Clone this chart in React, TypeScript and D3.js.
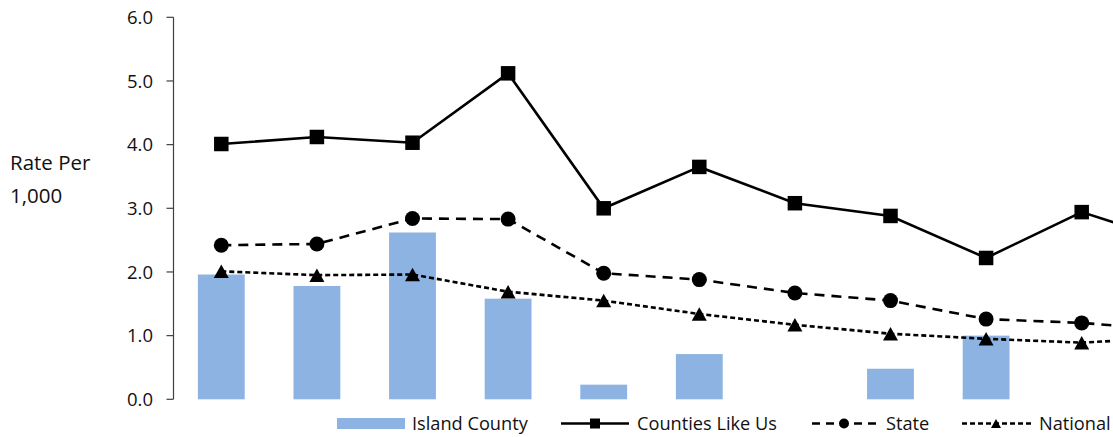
import React from "react";
import * as d3 from "d3";

const categories = ["C1", "C2", "C3", "C4", "C5", "C6", "C7", "C8", "C9", "C10", "C11"];
const islandCounty = [1.96, 1.78, 2.62, 1.58, 0.23, 0.71, 0, 0.48, 1.0, 0, 0];
const countiesLikeUs = [4.01, 4.12, 4.03, 5.12, 3.0, 3.65, 3.08, 2.88, 2.22, 2.94, 2.46];
const stateRate = [2.42, 2.44, 2.84, 2.83, 1.98, 1.88, 1.67, 1.55, 1.26, 1.2, 1.08];
const nationalRate = [2.01, 1.95, 1.96, 1.69, 1.55, 1.34, 1.17, 1.03, 0.95, 0.89, 0.97];
const yTicks = [0, 1, 2, 3, 4, 5, 6];
const legendLabels = ["Island County", "Counties Like Us", "State", "National"];

const W = 1113;
const H = 437;
const FONT = "'Open Sans', sans-serif";
const TEXT = "#111";
const BAR = "#8DB3E2";

const axisX = 173.5;
const step = 95.6;
const x = d3.scaleBand<string>().domain(categories).range([axisX, axisX + step * categories.length]).padding(0);
const y = d3.scaleLinear().domain([0, 6]).range([399.3, 17.3]);
const cx = (c: string) => (x(c) as number) + x.bandwidth() / 2;
const barW = x.bandwidth() * 0.49;

const lineGen = d3
  .line<number>()
  .x((_, i) => cx(categories[i]))
  .y((d) => y(d));

function Square({ x: px, y: py, s }: { x: number; y: number; s: number }) {
  return <rect x={px - s / 2} y={py - s / 2} width={s} height={s} fill="#000" />;
}
function Circle({ x: px, y: py, r }: { x: number; y: number; r: number }) {
  return <circle cx={px} cy={py} r={r} fill="#000" />;
}
function Tri({ x: px, y: py, s }: { x: number; y: number; s: number }) {
  const h = s * 0.9;
  return (
    <path
      d={`M${px},${py - h / 2}L${px + s / 2},${py + h / 2}L${px - s / 2},${py + h / 2}Z`}
      fill="#000"
    />
  );
}

export default function App() {
  const legendY = 423.5;
  return (
    <svg
      width={W}
      height={H}
      style={{ position: "absolute", left: 0, top: 0, background: "#fff" }}
      fontFamily={FONT}
    >
      {/* axis title */}
      <text x={10} y={170} fontSize={20.5} fill={TEXT}>Rate Per</text>
      <text x={10} y={203} fontSize={20.5} fill={TEXT}>1,000</text>

      {/* bars */}
      {islandCounty.map((v, i) =>
        v > 0 ? (
          <rect
            key={i}
            x={cx(categories[i]) - barW / 2}
            y={y(v)}
            width={barW}
            height={y(0) - y(v)}
            fill={BAR}
          />
        ) : null
      )}

      {/* y axis */}
      <line x1={axisX} x2={axisX} y1={y(6)} y2={y(0)} stroke="#404040" strokeWidth={1.2} />
      {yTicks.map((t) => (
        <g key={t}>
          <line x1={axisX - 7} x2={axisX} y1={y(t)} y2={y(t)} stroke="#404040" strokeWidth={1.2} />
          <text x={153} y={y(t) + 6.8} textAnchor="end" fontSize={18.5} fill={TEXT}>
            {t.toFixed(1)}
          </text>
        </g>
      ))}

      {/* lines */}
      <path d={lineGen(nationalRate) || ""} fill="none" stroke="#000" strokeWidth={2.6} strokeDasharray="5 3" />
      <path d={lineGen(stateRate) || ""} fill="none" stroke="#000" strokeWidth={2.6} strokeDasharray="10 7" />
      <path d={lineGen(countiesLikeUs) || ""} fill="none" stroke="#000" strokeWidth={2.6} />
      {countiesLikeUs.map((v, i) => (
        <Square key={"s" + i} x={cx(categories[i])} y={y(v)} s={14.5} />
      ))}
      {stateRate.map((v, i) => (
        <Circle key={"c" + i} x={cx(categories[i])} y={y(v)} r={7.5} />
      ))}
      {nationalRate.map((v, i) => (
        <Tri key={"t" + i} x={cx(categories[i])} y={y(v)} s={15} />
      ))}

      {/* legend */}
      <rect x={337} y={418} width={68} height={11} fill={BAR} />
      <text x={412} y={legendY + 6.3} fontSize={18.2} fill={TEXT}>{legendLabels[0]}</text>

      <line x1={561} x2={629} y1={legendY} y2={legendY} stroke="#000" strokeWidth={2.6} />
      <Square x={595} y={legendY} s={10} />
      <text x={637} y={legendY + 6.3} fontSize={18.2} fill={TEXT}>{legendLabels[1]}</text>

      <line x1={811} x2={876} y1={legendY} y2={legendY} stroke="#000" strokeWidth={2.6} strokeDasharray="8 6" strokeDashoffset={-1} />
      <Circle x={844} y={legendY} r={5} />
      <text x={886} y={legendY + 6.3} fontSize={18.2} fill={TEXT}>{legendLabels[2]}</text>

      <line x1={962} x2={1032} y1={legendY} y2={legendY} stroke="#000" strokeWidth={2.6} strokeDasharray="5 3" />
      <Tri x={996} y={legendY} s={10} />
      <text x={1039} y={legendY + 6.3} fontSize={18.2} fill={TEXT}>{legendLabels[3]}</text>
    </svg>
  );
}
